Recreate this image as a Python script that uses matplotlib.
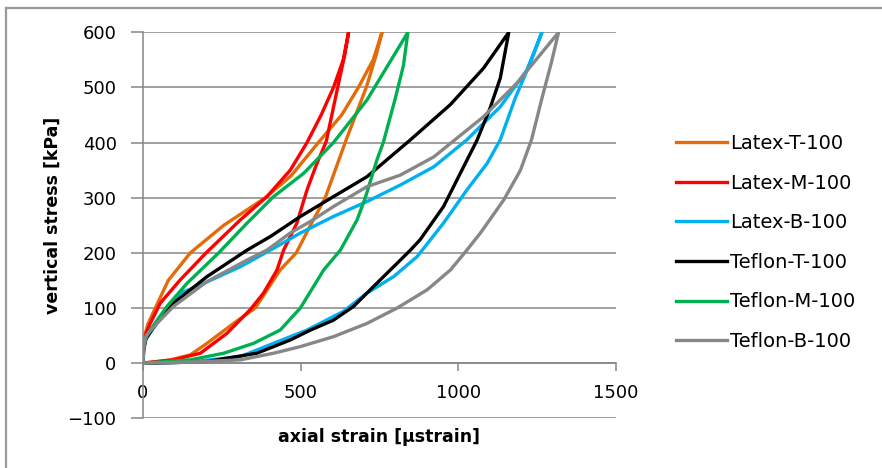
import numpy as np
import matplotlib
matplotlib.use("Agg")
from matplotlib import pyplot as plt
from matplotlib.lines import Line2D

# loops: loading branch (lower) from origin to peak, unloading branch (upper) back to origin
labels = ["Latex-T-100", "Latex-M-100", "Latex-B-100",
          "Teflon-T-100", "Teflon-M-100", "Teflon-B-100"]
colors = ["#E36C09", "#FF0000", "#00B0F0", "#000000", "#00B050", "#878787"]

latex_t_lo_x = [0, 87, 150, 203, 287, 356, 435, 486, 531, 578, 641, 708, 740, 758]
latex_t_lo_y = [0, 6, 15, 36, 72, 100, 169, 200, 250, 300, 400, 500, 560, 600]
latex_t_up_x = [0, 3, 15, 39, 80, 150, 256, 388, 470, 556, 630, 683, 730, 758]
latex_t_up_y = [0, 45, 70, 100, 150, 200, 250, 300, 340, 400, 450, 500, 550, 600]

latex_m_lo_x = [0, 97, 182, 266, 340, 382, 425, 446, 488, 520, 550, 581, 617, 640, 652]
latex_m_lo_y = [0, 6, 18, 54, 97, 127, 169, 205, 254, 314, 360, 402, 499, 560, 600]
latex_m_up_x = [0, 2, 10, 23, 55, 118, 200, 309, 393, 467, 520, 565, 604, 635, 652]
latex_m_up_y = [0, 30, 55, 72, 109, 151, 200, 260, 302, 350, 400, 450, 500, 550, 600]

latex_b_lo_x = [0, 150, 309, 414, 520, 636, 710, 795, 869, 953, 1027, 1091, 1133, 1180, 1232, 1265]
latex_b_lo_y = [0, 2, 12, 36, 60, 94, 127, 157, 193, 254, 314, 362, 405, 480, 550, 600]
latex_b_up_x = [0, 2, 7, 44, 118, 171, 309, 404, 499, 604, 710, 816, 922, 1027, 1133, 1218, 1265]
latex_b_up_y = [0, 25, 42, 72, 127, 139, 175, 205, 236, 266, 293, 323, 356, 405, 465, 532, 600]

teflon_t_lo_x = [0, 100, 203, 361, 467, 531, 604, 668, 731, 795, 848, 879, 953, 1006, 1059, 1101, 1133, 1160]
teflon_t_lo_y = [0, 1, 3, 18, 42, 60, 78, 103, 139, 175, 205, 224, 284, 344, 404, 463, 517, 600]
teflon_t_up_x = [0, 2, 10, 34, 97, 203, 330, 405, 499, 604, 710, 848, 975, 1080, 1160]
teflon_t_up_y = [0, 24, 45, 66, 109, 157, 205, 230, 266, 302, 338, 405, 469, 535, 600]

teflon_m_lo_x = [0, 150, 256, 351, 435, 499, 573, 626, 679, 705, 742, 762, 800, 826, 840]
teflon_m_lo_y = [0, 6, 18, 36, 60, 100, 169, 205, 260, 300, 369, 400, 480, 540, 600]
teflon_m_up_x = [0, 2, 8, 23, 76, 140, 240, 330, 414, 509, 604, 710, 784, 840]
teflon_m_up_y = [0, 24, 45, 60, 103, 145, 200, 254, 302, 344, 400, 477, 547, 600]

teflon_b_lo_x = [0, 150, 309, 414, 499, 604, 710, 806, 901, 975, 1027, 1070, 1144, 1197, 1232, 1265, 1295, 1318]
teflon_b_lo_y = [0, 2, 6, 18, 30, 48, 72, 100, 133, 169, 205, 236, 296, 350, 405, 480, 545, 600]
teflon_b_up_x = [0, 2, 10, 44, 97, 203, 330, 393, 467, 531, 604, 710, 816, 922, 1080, 1186, 1318]
teflon_b_up_y = [0, 30, 50, 72, 103, 148, 187, 205, 236, 257, 284, 320, 341, 374, 447, 508, 600]

loops = [
    (latex_t_lo_x, latex_t_lo_y, latex_t_up_x, latex_t_up_y),
    (latex_m_lo_x, latex_m_lo_y, latex_m_up_x, latex_m_up_y),
    (latex_b_lo_x, latex_b_lo_y, latex_b_up_x, latex_b_up_y),
    (teflon_t_lo_x, teflon_t_lo_y, teflon_t_up_x, teflon_t_up_y),
    (teflon_m_lo_x, teflon_m_lo_y, teflon_m_up_x, teflon_m_up_y),
    (teflon_b_lo_x, teflon_b_lo_y, teflon_b_up_x, teflon_b_up_y),
]

grid_c = "#868686"

fig = plt.figure(figsize=(8.82, 4.68), dpi=100)
ax = fig.add_axes([143/882, 1-418.3/468, 473/882, 386/468])

for (lx, ly, ux, uy), lab, c in zip(loops, labels, colors):
    x = list(lx) + list(ux[::-1])
    y = list(ly) + list(uy[::-1])
    ax.plot(x, y, color=c, lw=2.4, label=lab, solid_joinstyle="round")

ax.set_xlim(0, 1500)
ax.set_ylim(-100, 600)
ax.set_yticks([-100, 0, 100, 200, 300, 400, 500, 600])
ax.set_xticks([0, 500, 1000, 1500])
ax.yaxis.grid(True, color=grid_c, lw=1.1)
ax.set_axisbelow(True)

for s in ["top", "right"]:
    ax.spines[s].set_visible(False)
ax.spines["bottom"].set_position(("data", 0))
ax.spines["bottom"].set_color(grid_c)
ax.spines["left"].set_color(grid_c)
ax.spines["bottom"].set_linewidth(1.1)
ax.spines["left"].set_linewidth(1.1)
ax.tick_params(axis="y", length=9, width=1.1, color=grid_c, pad=10, labelsize=13)
ax.tick_params(axis="x", length=6, width=1.1, color=grid_c, pad=9, labelsize=13)

fig.text(379/882, 1-437/468, "axial strain [\u00b5strain]", ha="center", va="center",
         fontsize=12.5, fontweight="bold")
fig.text(53/882, 1-215/468, "vertical stress [kPa]", ha="center", va="center",
         rotation=90, fontsize=12.5, fontweight="bold")

fig.legend(loc="upper left", bbox_to_anchor=(676/882, 1-134/468), frameon=False,
           fontsize=14, borderpad=0, borderaxespad=0, handlelength=2.6,
           handletextpad=0.2, labelspacing=1.06)

# outer chart frame (left and top edges visible)
fig.add_artist(Line2D([6/882, 6/882], [-0.05, 1-8/468], transform=fig.transFigure,
                      color="#999999", lw=1.6))
fig.add_artist(Line2D([6/882, 1.05], [1-8/468, 1-8/468], transform=fig.transFigure,
                      color="#999999", lw=1.6))

fig.savefig("out.png", dpi=100)
